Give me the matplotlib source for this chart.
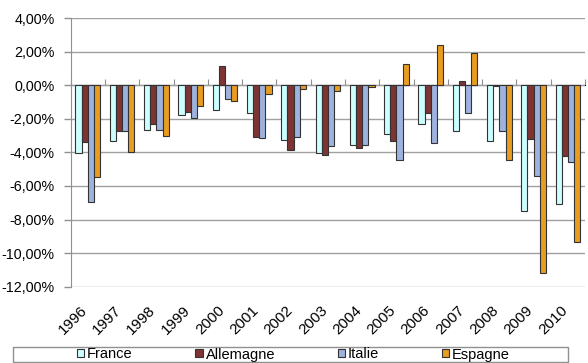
import matplotlib.pyplot as plt
import numpy as np
from matplotlib.patches import Rectangle

plt.rcParams['font.family'] = ['Liberation Sans', 'DejaVu Sans']

# Données (variation en %)
annees = ['1996', '1997', '1998', '1999', '2000', '2001', '2002', '2003',
          '2004', '2005', '2006', '2007', '2008', '2009', '2010']
france = [-4.02, -3.33, -2.64, -1.79, -1.49, -1.67, -3.28, -4.06,
          -3.58, -2.93, -2.31, -2.75, -3.33, -7.52, -7.07]
allemagne = [-3.37, -2.75, -2.34, -1.59, 1.15, -3.07, -3.84, -4.16,
             -3.72, -3.33, -1.63, 0.26, -0.05, -3.23, -4.24]
italie = [-6.97, -2.75, -2.67, -1.95, -0.84, -3.15, -3.09, -3.60,
          -3.54, -4.46, -3.42, -1.63, -2.73, -5.43, -4.58]
espagne = [-5.49, -3.98, -3.03, -1.24, -0.94, -0.54, -0.20, -0.34,
           -0.10, 1.27, 2.40, 1.90, -4.48, -11.19, -9.31]

series = [('France', france, '#CCFFFF'),
          ('Allemagne', allemagne, '#7F3333'),
          ('Italie', italie, '#9DB2DC'),
          ('Espagne', espagne, '#E89C20')]

y_ticks = np.arange(-12, 5, 2)
ymin, ymax = -12, 4

fig = plt.figure(figsize=(5.88, 3.63), dpi=100)
ax = fig.add_axes([0.1202, 0.2102, 0.995 - 0.1202, 0.9504 - 0.2102])

x = np.arange(len(annees))
w = 0.18
handles = []
for i, (nom, vals, col) in enumerate(series):
    b = ax.bar(x + (i - 1.5) * w, vals, w, color=col, edgecolor='#333333',
               linewidth=0.8, label=nom, zorder=3)
    handles.append(b)

ax.set_xlim(-0.5, len(annees) - 0.5)
ax.set_ylim(ymin, ymax)
ax.set_yticks(y_ticks)
ax.set_yticklabels([f'{v:.2f}'.replace('.', ',') + '%' for v in y_ticks],
                   fontsize=10.3)
ax.yaxis.grid(True, color='#A0A0A0', linewidth=1, zorder=0)
ax.set_axisbelow(True)

for s in ['top', 'right', 'bottom']:
    ax.spines[s].set_visible(False)
ax.spines['left'].set_color('#909090')
ax.tick_params(axis='y', length=4.7, width=1, color='#909090', pad=7)

ax.set_xticks(x + 0.06)
ax.set_xticklabels(annees, rotation=45, ha='right', fontsize=11)
ax.tick_params(axis='x', length=0, pad=12)

# axe des abscisses au niveau zéro avec graduations entre les groupes
sec = ax.secondary_xaxis((0 - ymin) / (ymax - ymin))
sec.set_xticks(np.arange(-0.5, len(annees), 1))
sec.set_xticklabels([])
sec.tick_params(axis='x', direction='out', length=4, color='#909090')
sec.spines['bottom'].set_color('#909090')

# légende
fig.patches.append(Rectangle((13 / 588, 1 - 362 / 363), 555 / 588, 15 / 363,
                             transform=fig.transFigure, fill=False,
                             edgecolor='#909090', linewidth=1))
leg = fig.legend(handles=handles, loc='center', ncol=4,
                 bbox_to_anchor=(293.5 / 588, 1 - 354.5 / 363),
                 frameon=False, fontsize=10.5, handlelength=0.5,
                 handleheight=0.5, handletextpad=0.2, columnspacing=4.3,
                 borderpad=0, borderaxespad=0)

fig.savefig('out.png', dpi=100)
